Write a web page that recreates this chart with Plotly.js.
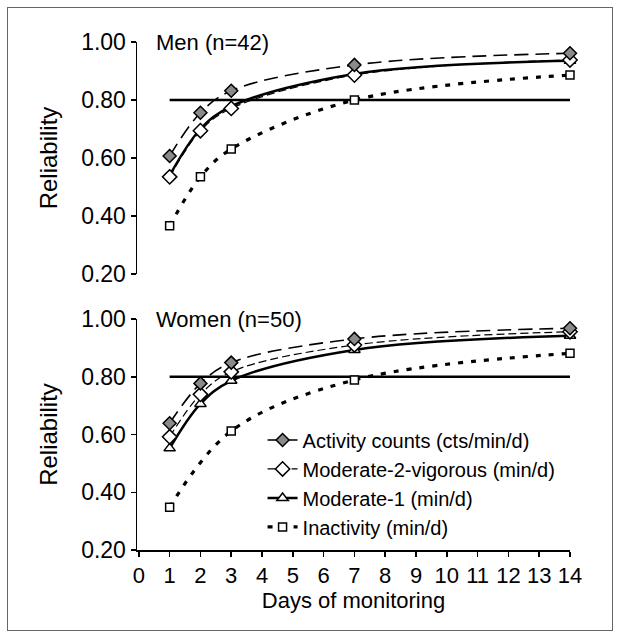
<!DOCTYPE html>
<html>
<head>
<meta charset="utf-8">
<script src="https://cdn.plot.ly/plotly-3.0.1.min.js"></script>
<style>
  html, body { margin: 0; padding: 0; background: #fff; }
  #wrap { position: relative; width: 619px; height: 637px; }
  #chart { position: absolute; left: 0; top: 0; width: 619px; height: 637px; }
  #frame { position: absolute; left: 7px; top: 7px; width: 604px; height: 622px;
           border: 1.5px solid #666; pointer-events: none; }
</style>
</head>
<body>
<div id="wrap">
  <div id="chart"></div>
  <div id="frame"></div>
</div>
<script>
// ---- data ----
const days = [1, 2, 3, 7, 14];
const daysWomenInactivity = [1, 3, 7, 14];
const threshold = 0.80;
const thresholdDays = [1, 14];

const seriesNames = [
  "Activity counts (cts/min/d)",
  "Moderate-2-vigorous (min/d)",
  "Moderate-1 (min/d)",
  "Inactivity (min/d)"
];

// Men (n=42)
const menActivity   = [0.607, 0.756, 0.832, 0.921, 0.961];
const menMVPA       = [0.535, 0.694, 0.771, 0.886, 0.938];
const menModerate1  = [0.540, 0.700, 0.778, 0.890, 0.935];
const menInactivity = [0.366, 0.535, 0.631, 0.800, 0.886];

// Women (n=50)
const womenActivity   = [0.639, 0.777, 0.849, 0.931, 0.968];
const womenMVPA       = [0.592, 0.739, 0.817, 0.910, 0.956];
const womenModerate1  = [0.552, 0.706, 0.786, 0.893, 0.942];
const womenInactivity = [0.348, 0.612, 0.789, 0.881];

const yTicks = [0.20, 0.40, 0.60, 0.80, 1.00];
const xTicks = [0,1,2,3,4,5,6,7,8,9,10,11,12,13,14];

// ---- styles ----
const FONT = "Liberation Sans, Arial, sans-serif";
const styles = [
  { line: {color: "#000", width: 1.6, dash: "14px,7px", shape: "spline"},
    marker: {symbol: "diamond", size: 10, color: "#8a8a8a", line: {color: "#000", width: 1.5}} },
  { line: {color: "#000", width: 1.2, dash: "8px,4px", shape: "spline"},
    marker: {symbol: "diamond", size: 11, color: "#fff", line: {color: "#000", width: 1.5}} },
  { line: {color: "#000", width: 2.5, shape: "spline"},
    marker: {symbol: "triangle-up", size: 10, color: "#fff", line: {color: "#000", width: 1.5}} },
  { line: {color: "#000", width: 3.2, dash: "5px,8px", shape: "spline"},
    marker: {symbol: "square", size: 8, color: "#fff", line: {color: "#000", width: 1.5}} }
];

function mk(x, y, i, xa, ya, showlegend) {
  return {
    x: x, y: y, xaxis: xa, yaxis: ya, type: "scatter", mode: "lines+markers",
    name: seriesNames[i], line: styles[i].line, marker: styles[i].marker,
    showlegend: showlegend, legendrank: i + 1, legendgroup: "g" + i,
    cliponaxis: false, hoverinfo: "x+y"
  };
}

const refLine = (xa, ya) => ({
  x: thresholdDays, y: [threshold, threshold], xaxis: xa, yaxis: ya,
  type: "scatter", mode: "lines", line: {color: "#000", width: 2.5},
  showlegend: false, hoverinfo: "skip", cliponaxis: false
});

const data = [
  refLine("x", "y"),
  mk(days, menInactivity, 3, "x", "y", false),
  mk(days, menModerate1, 2, "x", "y", false),
  mk(days, menMVPA, 1, "x", "y", false),
  mk(days, menActivity, 0, "x", "y", false),
  refLine("x2", "y2"),
  mk(daysWomenInactivity, womenInactivity, 3, "x2", "y2", true),
  mk(days, womenModerate1, 2, "x2", "y2", true),
  mk(days, womenMVPA, 1, "x2", "y2", true),
  mk(days, womenActivity, 0, "x2", "y2", true)
];

const yAxisBase = {
  range: [0.2, 1.0], tickvals: yTicks, tickformat: ".2f",
  showline: true, linecolor: "#000", linewidth: 1.5,
  ticks: "outside", ticklen: 5, tickwidth: 1.5, tickcolor: "#000",
  showgrid: false, zeroline: false,
  tickfont: {family: FONT, size: 23, color: "#000"},
  title: {text: "Reliability", font: {family: FONT, size: 24, color: "#000"}, standoff: 16}
};

const layout = {
  width: 619, height: 637,
  margin: {l: 137, r: 49, t: 42, b: 87},
  paper_bgcolor: "#fff", plot_bgcolor: "#fff",
  font: {family: FONT, color: "#000"},
  showlegend: true,
  xaxis: {range: [-0.06, 14], visible: false, anchor: "y", domain: [0, 1]},
  yaxis: Object.assign({}, yAxisBase, {domain: [0.5433, 1], anchor: "x"}),
  xaxis2: {
    range: [-0.06, 14], anchor: "y2", domain: [0, 1],
    tickvals: xTicks, showline: true, linecolor: "#000", linewidth: 1.5,
    ticks: "outside", ticklen: 5, tickwidth: 1.5, tickcolor: "#000",
    showgrid: false, zeroline: false,
    tickfont: {family: FONT, size: 22, color: "#000"},
    title: {text: "Days of monitoring", font: {family: FONT, size: 22, color: "#000"}, standoff: 5}
  },
  yaxis2: Object.assign({}, yAxisBase, {domain: [0, 0.4547], anchor: "x2"}),
  legend: {
    x: 0.29, y: 0.255, xanchor: "left", yanchor: "top",
    bgcolor: "rgba(0,0,0,0)", borderwidth: 0,
    font: {family: FONT, size: 20, color: "#000"},
    tracegroupgap: 0, itemwidth: 30
  },
  annotations: [
    {text: "Men (n=42)", xref: "x", yref: "y", x: 0.5, y: 1.0,
     xanchor: "left", yanchor: "middle", showarrow: false,
     font: {family: FONT, size: 22, color: "#000"}},
    {text: "Women (n=50)", xref: "x2", yref: "y2", x: 0.5, y: 1.0,
     xanchor: "left", yanchor: "middle", showarrow: false,
     font: {family: FONT, size: 22, color: "#000"}}
  ]
};

Plotly.newPlot("chart", data, layout, {displayModeBar: false, staticPlot: true});
</script>
</body>
</html>
